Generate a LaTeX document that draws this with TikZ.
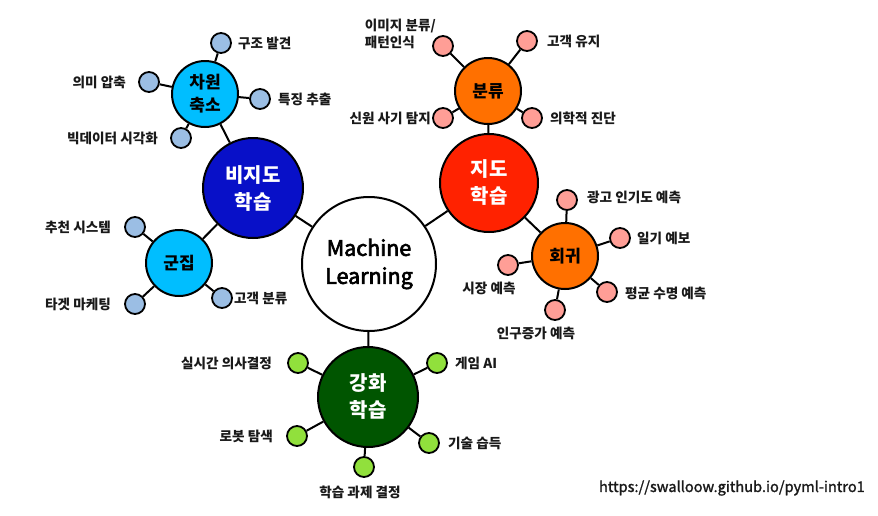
\documentclass[tikz,border=0pt]{standalone}
\usepackage{fontspec}
\setmainfont{Noto Sans CJK KR}
\newfontfamily\mlfont[FakeBold=3]{Noto Sans CJK KR}
\newfontfamily\urlfont[FakeBold=1.5]{Noto Sans CJK KR}
\definecolor{supred}{RGB}{255,34,0}
\definecolor{orng}{RGB}{255,112,0}
\definecolor{dblue}{RGB}{8,16,200}
\definecolor{cyanb}{RGB}{0,190,255}
\definecolor{dgreen}{RGB}{0,85,0}
\definecolor{lblue}{RGB}{155,190,228}
\definecolor{pinkl}{RGB}{255,158,150}
\definecolor{lgreen}{RGB}{145,224,60}
\tikzset{
  bignode/.style={circle, draw=black, line width=2pt, minimum size=#1, inner sep=0pt, align=center,
    font=\bfseries\fontsize{20}{27}\selectfont, text=white},
  midnode/.style={circle, draw=black, line width=2pt, minimum size=66pt, inner sep=0pt, align=center,
    font=\bfseries\fontsize{17}{23}\selectfont, text=black},
  leaf/.style={circle, draw=black, line width=1.8pt, minimum size=20pt, inner sep=0pt, fill=#1},
  lbl/.style={inner sep=0pt, font=\bfseries\fontsize{13.6}{17}\selectfont, text=black!90},
  conn/.style={line width=2pt, draw=black}
}
\begin{document}
\begin{tikzpicture}[x=1pt,y=-1pt]
\useasboundingbox (0,0) rectangle (878,515);
% main
\node[bignode=134pt, fill=white, text=black, font=\mlfont\fontsize{21.5}{28}\selectfont] (ml) at (369,264) {Machine\\Learning};
\node[bignode=98pt, fill=supred] (sup) at (489,183) {지도\\학습};
\node[bignode=100pt, fill=dblue] (uns) at (253,188) {비지도\\학습};
\node[bignode=100pt, fill=dgreen] (rl) at (368,397) {강화\\학습};
\node[midnode, fill=cyanb] (dim) at (205,94) {차원\\축소};
\node[midnode, fill=cyanb] (clu) at (179,263) {군집};
\node[midnode, fill=orng] (cls) at (488,91) {분류};
\node[midnode, fill=orng] (reg) at (565,256) {회귀};
\draw[conn] (ml) -- (sup);
\draw[conn] (ml) -- (uns);
\draw[conn] (ml) -- (rl);
\draw[conn] (sup) -- (cls);
\draw[conn] (sup) -- (reg);
\draw[conn] (uns) -- (dim);
\draw[conn] (uns) -- (clu);
% dim leaves
\node[leaf=lblue] (d1) at (221,43) {};
\node[leaf=lblue] (d2) at (149,82) {};
\node[leaf=lblue] (d3) at (260,99) {};
\node[leaf=lblue] (d4) at (181,138) {};
\foreach \l in {d1,d2,d3,d4} \draw[conn] (dim) -- (\l);
\node[lbl, anchor=west] (td1) at (238,43) {구조 발견};
\node[lbl, anchor=east] (td2) at (126,82) {의미 압축};
\node[lbl, anchor=west] (td3) at (278,99) {특징 추출};
\node[lbl, anchor=east] (td4) at (158,138) {빅데이터 시각화};
% cluster leaves
\node[leaf=lblue] (c1) at (135,227) {};
\node[leaf=lblue] (c2) at (135,304) {};
\node[leaf=lblue] (c3) at (222,298) {};
\foreach \l in {c1,c2,c3} \draw[conn] (clu) -- (\l);
\node[lbl, anchor=east] (tc1) at (111,227) {추천 시스템};
\node[lbl, anchor=east] (tc2) at (111,304) {타겟 마케팅};
\node[lbl, anchor=west] (tc3) at (234,298) {고객 분류};
% class leaves
\node[leaf=pinkl] (k1) at (443,46) {};
\node[leaf=pinkl] (k2) at (527,41) {};
\node[leaf=pinkl] (k3) at (443,118) {};
\node[leaf=pinkl] (k4) at (532,118) {};
\foreach \l in {k1,k2,k3,k4} \draw[conn] (cls) -- (\l);
\node[lbl, anchor=east, align=left] (tk1) at (436,34) {이미지 분류/\\패턴인식};
\node[lbl, anchor=west] (tk2) at (547,41) {고객 유지};
\node[lbl, anchor=east] (tk3) at (431,118) {신원 사기 탐지};
\node[lbl, anchor=west] (tk4) at (550,118) {의학적 진단};
% regression leaves
\node[leaf=pinkl] (r1) at (567,200) {};
\node[leaf=pinkl] (r2) at (620,238) {};
\node[leaf=pinkl] (r3) at (607,292) {};
\node[leaf=pinkl] (r4) at (508,265) {};
\node[leaf=pinkl] (r5) at (555,310) {};
\foreach \l in {r1,r2,r3,r4,r5} \draw[conn] (reg) -- (\l);
\node[lbl, anchor=west] (tr1) at (587,197) {광고 인기도 예측};
\node[lbl, anchor=west] (tr2) at (637,238) {일기 예보};
\node[lbl, anchor=west] (tr3) at (625,293) {평균 수명 예측};
\node[lbl] (tr4) at (489,288) {시장 예측};
\node[lbl] (tr5) at (536,333) {인구증가 예측};
% rl leaves
\node[leaf=lgreen] (g1) at (298,363) {};
\node[leaf=lgreen] (g2) at (437,363) {};
\node[leaf=lgreen] (g3) at (297,436) {};
\node[leaf=lgreen] (g4) at (429,443) {};
\node[leaf=lgreen] (g5) at (364,467) {};
\foreach \l in {g1,g2,g3,g4,g5} \draw[conn] (rl) -- (\l);
\node[lbl, anchor=east] (tg1) at (272,363) {실시간 의사결정};
\node[lbl, anchor=west] (tg2) at (455,363) {게임 AI};
\node[lbl, anchor=east] (tg3) at (273,436) {로봇 탐색};
\node[lbl, anchor=west] (tg4) at (448,443) {기술 습득};
\node[lbl] (tg5) at (360,492) {학습 과제 결정};
% url
\node[inner sep=0pt, anchor=east, font=\urlfont\fontsize{14.6}{17}\selectfont, text=black!90] (url) at (865,488) {https://swalloow.github.io/pyml-intro1};
\end{tikzpicture}
\end{document}
